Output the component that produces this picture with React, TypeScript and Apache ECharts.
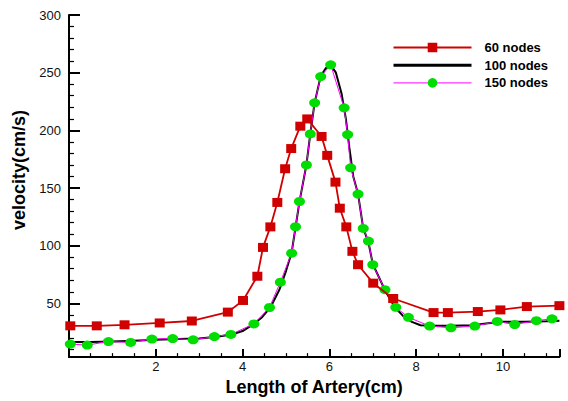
import React, { useEffect, useRef } from "react";
import * as echarts from "echarts";

const X_TICKS = [2, 4, 6, 8, 10];
const Y_TICKS = [50, 100, 150, 200, 250, 300];
const SERIES_NAMES = ["60 nodes", "100 nodes", "150 nodes"];
const X_TITLE = "Length of Artery(cm)";
const Y_TITLE = "velocity(cm/s)";

// 60 nodes (red squares)
const nodes60X = [0.03, 0.64, 1.28, 2.09, 2.83, 3.66, 4.01, 4.34, 4.47, 4.64, 4.8, 4.98, 5.12, 5.33, 5.49, 5.82, 5.95, 6.14, 6.24, 6.39, 6.53, 6.66, 7.01, 7.47, 8.4, 8.73, 9.42, 9.94, 10.55, 11.3];
const nodes60Y = [30.5, 30.5, 31.4, 33.0, 34.7, 42.4, 52.5, 73.5, 98.5, 116.3, 137.5, 166.7, 184.2, 203.6, 209.9, 194.7, 178.3, 155.1, 132.5, 116.3, 95.1, 83.5, 67.5, 54.2, 42.0, 42.0, 42.9, 44.3, 47.2, 48.0];

// 100 nodes (black line)
const nodes100X = [0.03, 0.5, 1.0, 1.5, 2.0, 2.5, 3.0, 3.4, 3.75, 4.0, 4.25, 4.45, 4.65, 4.85, 5.0, 5.13, 5.22, 5.31, 5.47, 5.56, 5.66, 5.8, 5.92, 6.03, 6.15, 6.28, 6.38, 6.46, 6.55, 6.66, 6.78, 6.9, 7.0, 7.15, 7.3, 7.5, 7.7, 7.9, 8.1, 8.4, 8.8, 9.3, 9.7, 10.0, 10.5, 11.0, 11.3];
const nodes100Y = [16.5, 16.5, 17, 17.5, 18.5, 19, 19.5, 21, 23, 26, 32, 38, 47, 62, 78, 94, 116, 138, 170, 197, 224, 247, 254, 256.5, 250, 232, 210, 185, 160, 145, 115, 103, 84, 72, 60, 47, 39, 34, 31, 30.5, 30.5, 31, 33, 34, 34, 34.5, 35];

// 150 nodes (green circles, magenta line)
const nodes150X = [0.03, 0.42, 0.91, 1.42, 1.91, 2.39, 2.86, 3.35, 3.73, 4.26, 4.62, 4.87, 5.13, 5.22, 5.31, 5.47, 5.56, 5.66, 5.8, 6.03, 6.34, 6.42, 6.49, 6.66, 6.78, 6.9, 7.0, 7.28, 7.53, 7.82, 8.31, 8.8, 9.35, 9.87, 10.27, 10.77, 11.13];
const nodes150Y = [14.7, 13.8, 16.9, 16.1, 19.0, 19.5, 18.4, 21.2, 23.1, 32.2, 46.4, 68.4, 93.5, 116.4, 138.3, 170, 196.9, 223.9, 246.6, 256.8, 219.5, 196.3, 167.5, 144.7, 115, 104, 83.5, 61.9, 46.6, 37.9, 30.3, 28.8, 30.3, 34.3, 31.6, 35.0, 36.6];

const zip = (xs: number[], ys: number[]) => xs.map((x, i) => [x, ys[i]]);

const FONT = "'Liberation Sans', Arial, Helvetica, sans-serif";

export default function App() {
  const ref = useRef<HTMLDivElement>(null);
  useEffect(() => {
    const chart = echarts.init(ref.current!, null, { renderer: "svg" });
    chart.setOption({
      animation: false,
      backgroundColor: "#fff",
      textStyle: { fontFamily: FONT },
      grid: { left: 69, right: 8.6, top: 15, bottom: 36 },
      legend: {
        left: 392,
        top: 41,
        padding: 0,
        orient: "vertical",
        itemWidth: 78,
        itemHeight: 12,
        itemGap: 4.7,
        selectedMode: false,
        data: [
          { name: SERIES_NAMES[0], lineStyle: { width: 2 } },
          { name: SERIES_NAMES[1], lineStyle: { width: 3 }, itemStyle: { color: "transparent", opacity: 0 } },
          { name: SERIES_NAMES[2], lineStyle: { width: 1 } },
        ],
        textStyle: { fontSize: 13, fontWeight: "bold", color: "#000", fontFamily: FONT, padding: [0, 0, 0, 8] },
      },
      xAxis: {
        type: "value",
        min: 0,
        max: 11.3,
        interval: 2,
        name: X_TITLE,
        nameLocation: "middle",
        nameGap: 14,
        nameTextStyle: { fontSize: 18, fontWeight: "bold", color: "#000", fontFamily: FONT, verticalAlign: "top" },
        axisLine: { show: true, lineStyle: { color: "#000", width: 2 } },
        axisTick: { show: true, inside: true, length: 8, lineStyle: { color: "#000", width: 2 } },
        minorTick: { show: true, splitNumber: 4, length: 4, lineStyle: { color: "#000", width: 1.2 } },
        splitLine: { show: false },
        minorSplitLine: { show: false },
        axisLabel: {
          margin: 3,
          fontSize: 13,
          color: "#111",
          fontFamily: FONT,
          formatter: (v: number) => (X_TICKS.includes(Math.round(v * 1000) / 1000) ? String(Math.round(v)) : ""),
        },
      },
      yAxis: {
        type: "value",
        min: 3.4,
        max: 300,
        axisLine: { show: true, lineStyle: { color: "#000", width: 2 } },
        axisTick: { show: true, inside: true, length: 11, lineStyle: { color: "#000", width: 2 } },
        minorTick: { show: true, splitNumber: 5, length: 5, lineStyle: { color: "#000", width: 1.2 } },
        splitLine: { show: false },
        minorSplitLine: { show: false },
        axisLabel: {
          margin: 8,
          fontSize: 13,
          color: "#111",
          fontFamily: FONT,
          formatter: (v: number) => (Y_TICKS.includes(Math.round(v * 1000) / 1000) ? String(Math.round(v)) : ""),
        },
      },
      graphic: [
        {
          type: "text",
          x: 19,
          y: 170,
          rotation: Math.PI / 2,
          style: {
            text: Y_TITLE,
            fontSize: 18,
            fontWeight: "bold",
            fontFamily: FONT,
            fill: "#000",
            align: "center",
            verticalAlign: "middle",
          },
        },
      ],
      series: [
        {
          name: SERIES_NAMES[1],
          type: "line",
          data: zip(nodes100X, nodes100Y),
          symbol: "none",
          lineStyle: { color: "#000", width: 2 },
          itemStyle: { color: "#000" },
          z: 2,
        },
        {
          name: SERIES_NAMES[2],
          type: "line",
          data: zip(nodes150X, nodes150Y),
          symbol: "circle",
          symbolSize: [11, 9],
          lineStyle: { color: "#FF00FF", width: 1 },
          itemStyle: { color: "#00DD00" },
          z: 3,
        },
        {
          name: SERIES_NAMES[0],
          type: "line",
          data: zip(nodes60X, nodes60Y),
          symbol: "rect",
          symbolSize: [10, 9],
          lineStyle: { color: "#D00000", width: 1.8 },
          itemStyle: { color: "#D00000" },
          z: 4,
        },
      ],
    });
    return () => chart.dispose();
  }, []);
  return (
    <div
      ref={ref}
      style={{ position: "fixed", left: 0, top: 0, width: 568, height: 401, background: "#fff" }}
    />
  );
}
